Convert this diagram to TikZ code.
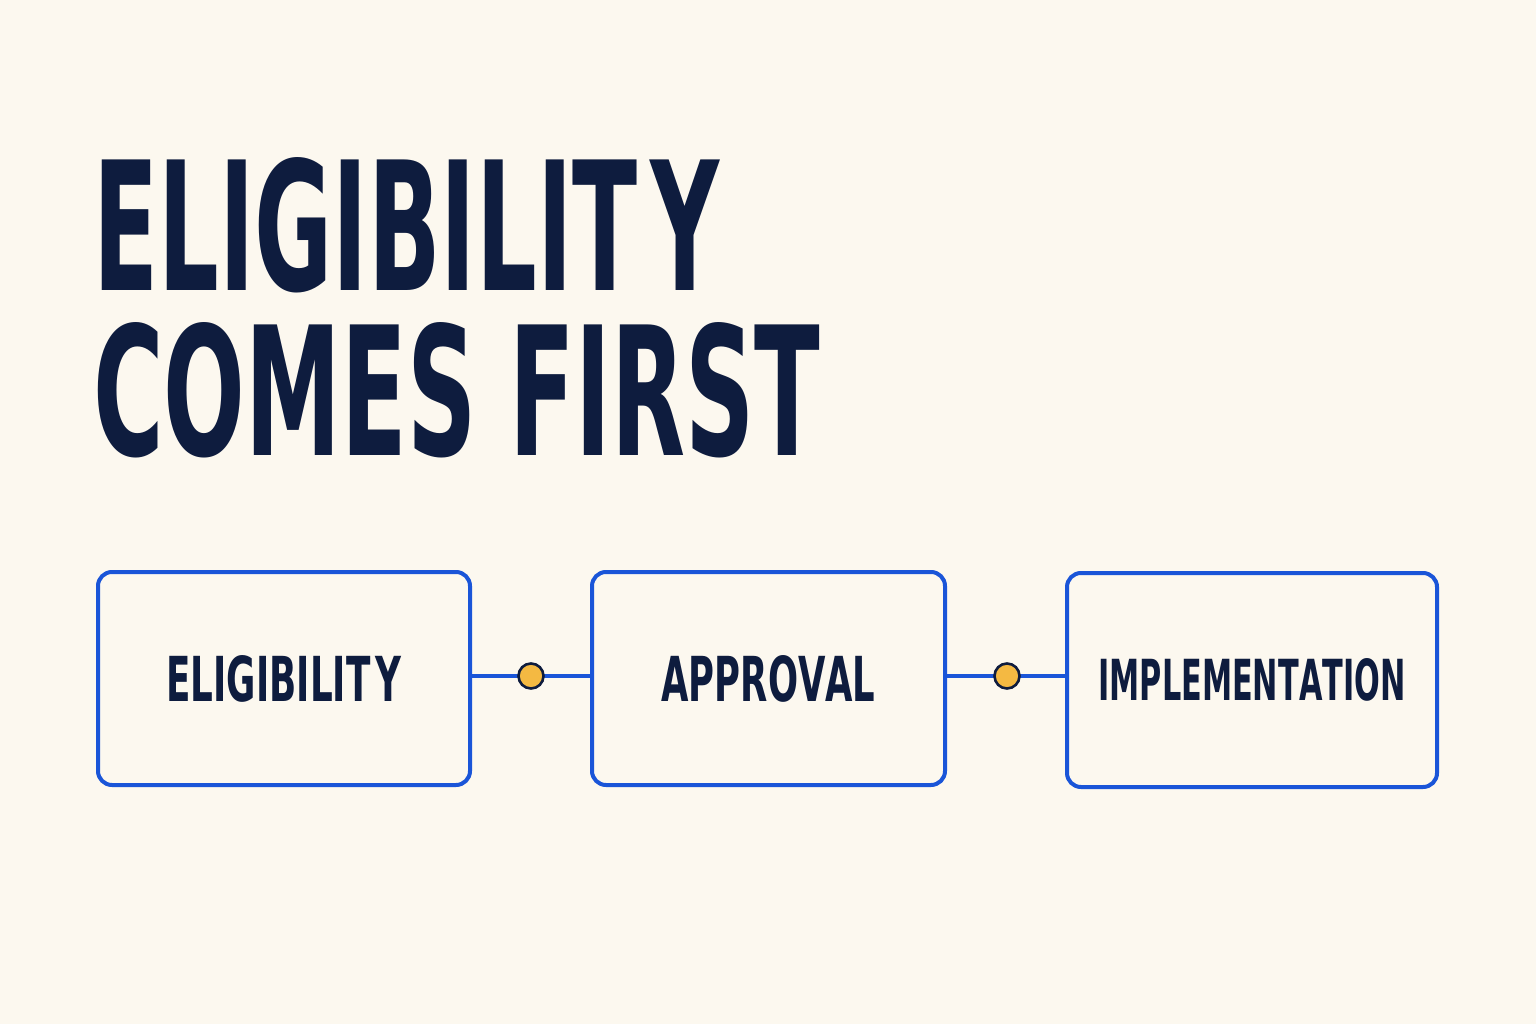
\documentclass[tikz,border=0pt]{standalone}
\usepackage{fontspec}
\setmainfont{DejaVu Sans}
\newfontfamily\titlefont{DejaVu Sans}[Kerning=Off]
\usepackage{graphicx}
\definecolor{bg}{HTML}{FCF8EF}
\definecolor{navy}{HTML}{0E1C3E}
\definecolor{boxblue}{HTML}{1A55D8}
\definecolor{dotfill}{HTML}{F4B942}
\newcommand{\fitto}[3]{\resizebox{#1pt}{#2pt}{\titlefont\bfseries #3}}
\tikzset{
  stagebox/.style={draw=boxblue, line width=4pt, rounded corners=14pt, fill=bg, inner sep=0pt, text=navy},
  link/.style={draw=boxblue, line width=3.5pt},
  joint/.style={circle, draw=navy, line width=2.6pt, fill=dotfill, minimum size=25pt, inner sep=0pt},
  titletext/.style={anchor=north west, inner sep=0pt, text=navy}
}
\begin{document}
\begin{tikzpicture}[x=1pt,y=-1pt]
\fill[bg] (0,0) rectangle (1536,1024);
\useasboundingbox (0,0) rectangle (1536,1024);
\node[titletext] (t1) at (93,157) {\fitto{627}{133}{ELIGIBILIT\kern0.14em Y}};
\node[titletext] (t2) at (93,322) {\fitto{727}{133}{COMES FIRST}};
\node[stagebox, minimum width=372pt, minimum height=213pt] (b1) at (284,678.5) {\fitto{235}{46}{ELIGIBILIT\kern0.14em Y}};
\node[stagebox, minimum width=353pt, minimum height=213pt] (b2) at (768.5,678.5) {\fitto{214}{46}{APPROVAL}};
\node[stagebox, minimum width=370pt, minimum height=214pt] (b3) at (1252,680) {\fitto{307}{42}{IMPLEMENTATION}};
\coordinate (c1) at (531,676);
\coordinate (c2) at (1007,676);
\draw[link] (b1.east |- c1) -- (b2.west |- c1);
\draw[link] (b2.east |- c2) -- (b3.west |- c2);
\node[joint] (d1) at (c1) {};
\node[joint] (d2) at (c2) {};
\end{tikzpicture}
\end{document}
